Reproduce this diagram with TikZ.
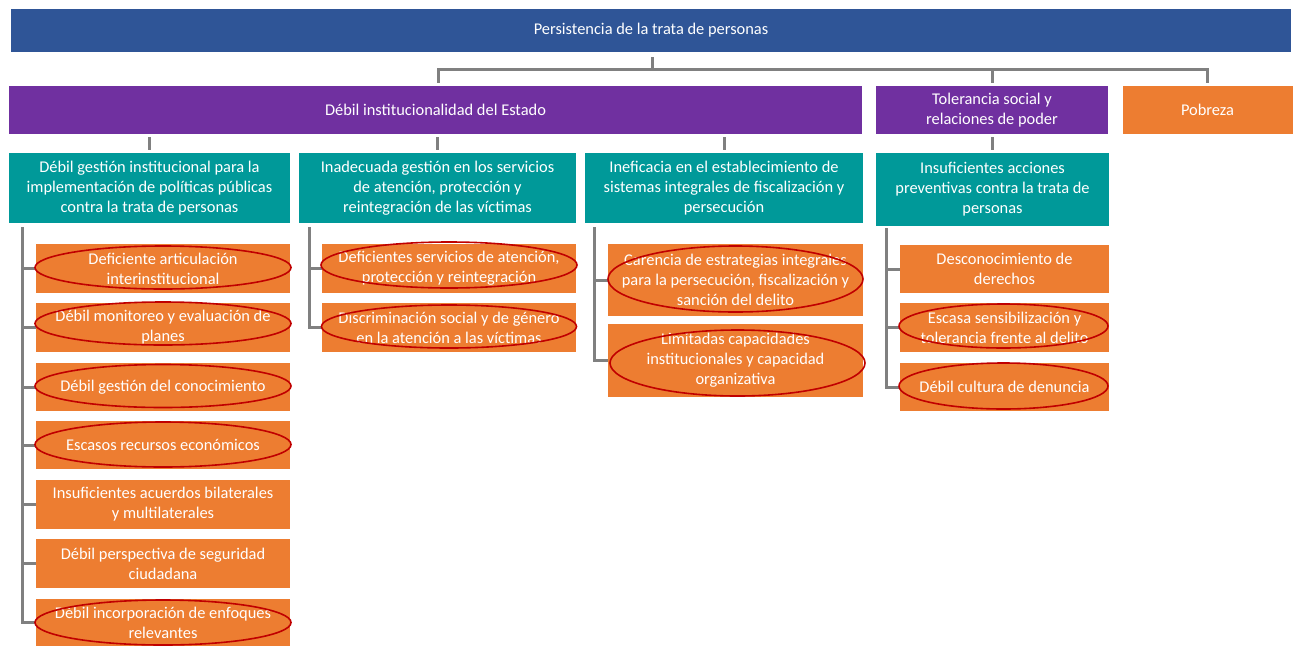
\documentclass[tikz,border=0pt]{standalone}
\usepackage{fontspec}
\setmainfont{Carlito}
\usetikzlibrary{shapes.geometric}
\definecolor{cblue}{HTML}{2F5597}
\definecolor{cpurple}{HTML}{7030A0}
\definecolor{cteal}{HTML}{009999}
\definecolor{corange}{HTML}{ED7D31}
\definecolor{cgray}{HTML}{808080}
\definecolor{cred}{HTML}{C00000}
\begin{document}
\begin{tikzpicture}[x=1pt,y=-1pt,
  box/.style={inner sep=0pt, align=center, text=white, font=\fontsize{16.4}{20}\selectfont},
  topbox/.style={box, fill=cblue},
  purplebox/.style={box, fill=cpurple},
  tealbox/.style={box, fill=cteal},
  orangebox/.style={box, fill=corange},
  conn/.style={draw=cgray, line width=3pt},
  oval/.style={ellipse, draw=cred, line width=1.6pt, inner sep=0pt}]
\useasboundingbox (0,0) rectangle (1295,646);

% level 0
\node[topbox, minimum width=1280pt, minimum height=43pt] (top) at (651,30.5) {Persistencia de la trata de personas};

% level 1
\node[purplebox, minimum width=853pt, minimum height=48pt] (P1) at (435.5,110) {Débil institucionalidad del Estado};
\node[purplebox, minimum width=232pt, minimum height=48pt] (P2) at (992,110) {Tolerancia social y\\relaciones de poder};
\node[orangebox, minimum width=170pt, minimum height=48pt] (Pob) at (1207.5,110) {Pobreza};

% level 2
\node[tealbox, minimum width=281pt, minimum height=70pt] (T1) at (149.5,188) {Débil gestión institucional para la\\implementación de políticas públicas\\contra la trata de personas};
\node[tealbox, minimum width=277pt, minimum height=70pt] (T2) at (437.5,188) {Inadecuada gestión en los servicios\\de atención, protección y\\reintegración de las víctimas};
\node[tealbox, minimum width=278pt, minimum height=70pt] (T3) at (724,188) {Ineficacia en el establecimiento de\\sistemas integrales de fiscalización y\\persecución};
\node[tealbox, minimum width=233pt, minimum height=73pt] (T4) at (992.5,189.5) {Insuficientes acciones\\preventivas contra la trata de\\personas};

% column 1
\node[orangebox, minimum width=254pt, minimum height=49pt] (c1a) at (163,268.5) {Deficiente articulación\\interinstitucional};
\node[orangebox, minimum width=254pt, minimum height=49pt] (c1b) at (163,327.5) {Débil monitoreo y evaluación de\\planes};
\node[orangebox, minimum width=254pt, minimum height=48pt] (c1c) at (163,387) {Débil gestión del conocimiento};
\node[orangebox, minimum width=254pt, minimum height=48pt] (c1d) at (163,445) {Escasos recursos económicos};
\node[orangebox, minimum width=254pt, minimum height=49pt] (c1e) at (163,504.5) {Insuficientes acuerdos bilaterales\\y multilaterales};
\node[orangebox, minimum width=254pt, minimum height=49pt] (c1f) at (163,563.5) {Débil perspectiva de seguridad\\ciudadana};
\node[orangebox, minimum width=254pt, minimum height=47pt] (c1g) at (163,622.5) {Débil incorporación de enfoques\\relevantes};

% column 2
\node[orangebox, minimum width=254pt, minimum height=49pt] (c2a) at (449,268.5) {Deficientes servicios de atención,\\protección y reintegración};
\node[orangebox, minimum width=254pt, minimum height=49pt] (c2b) at (449,327.5) {Discriminación social y de género\\en la atención a las víctimas};

% column 3
\node[orangebox, minimum width=255pt, minimum height=72pt] (c3a) at (735.5,280) {Carencia de estrategias integrales\\para la persecución, fiscalización y\\sanción del delito};
\node[orangebox, minimum width=255pt, minimum height=73pt] (c3b) at (735.5,360.5) {Limitadas capacidades\\institucionales y capacidad\\organizativa};

% column 4
\node[orangebox, minimum width=209pt, minimum height=48pt] (c4a) at (1004.5,269) {Desconocimiento de\\derechos};
\node[orangebox, minimum width=209pt, minimum height=49pt] (c4b) at (1004.5,327.5) {Escasa sensibilización y\\tolerancia frente al delito};
\node[orangebox, minimum width=209pt, minimum height=48pt] (c4c) at (1004.5,387) {Débil cultura de denuncia};

% connectors level 0 -> 1
\coordinate (bus) at (652,69);
\draw[conn] ([yshift=-5pt]top.south -| bus) -- (bus);
\draw[conn] ([xshift=3pt,yshift=3pt]P1.north) |- (bus) -| ([yshift=3pt]Pob.north);
\draw[conn] (bus -| P2.north) -- ([yshift=3pt]P2.north);

% connectors level 1 -> 2
\draw[conn] ([yshift=-3pt]P1.south -| T1.north) -- ([yshift=3pt]T1.north);
\draw[conn] ([yshift=-3pt]P1.south -| T2.north) -- ([yshift=3pt]T2.north);
\draw[conn] ([yshift=-3pt]P1.south -| T3.north) -- ([yshift=3pt]T3.north);
\draw[conn] ([yshift=-3pt]P2.south -| T4.north) -- ([yshift=3pt]T4.north);

% column 1 connectors
\draw[conn] ([xshift=14pt,yshift=-4pt]T1.south west) |- (c1g.west);
\foreach \n in {c1a,c1b,c1c,c1d,c1e,c1f}
  \draw[conn] ([xshift=14pt]T1.west |- \n.west) -- (\n.west);
% column 2
\draw[conn] ([xshift=11pt,yshift=-4pt]T2.south west) |- (c2b.west);
\draw[conn] ([xshift=11pt]T2.west |- c2a.west) -- (c2a.west);
% column 3
\draw[conn] ([xshift=10pt,yshift=-4pt]T3.south west) |- (c3b.west);
\draw[conn] ([xshift=10pt]T3.west |- c3a.west) -- (c3a.west);
% column 4
\draw[conn] ([xshift=11pt,yshift=-2pt]T4.south west) |- (c4c.west);
\foreach \n in {c4a,c4b}
  \draw[conn] ([xshift=11pt]T4.west |- \n.west) -- (\n.west);

% red ellipses
\node[oval, minimum width=256pt, minimum height=43pt] (e1a) at (163,267.5) {};
\node[oval, minimum width=256pt, minimum height=43pt] (e1b) at (163,323.5) {};
\node[oval, minimum width=256pt, minimum height=43pt] (e1c) at (163,386) {};
\node[oval, minimum width=256pt, minimum height=45pt] (e1d) at (163,444.5) {};
\node[oval, minimum width=256pt, minimum height=45pt] (e1g) at (163,622.5) {};
\node[oval, minimum width=256pt, minimum height=46pt] (e2a) at (449,265) {};
\node[oval, minimum width=255pt, minimum height=43pt] (e2b) at (449,326.5) {};
\node[oval, minimum width=255pt, minimum height=66pt] (e3a) at (735.5,279) {};
\node[oval, minimum width=255pt, minimum height=66pt] (e3b) at (737.5,363) {};
\node[oval, minimum width=209pt, minimum height=44pt] (e4b) at (1003.5,326) {};
\node[oval, minimum width=209pt, minimum height=46pt] (e4c) at (1003.5,386) {};
\end{tikzpicture}
\end{document}
